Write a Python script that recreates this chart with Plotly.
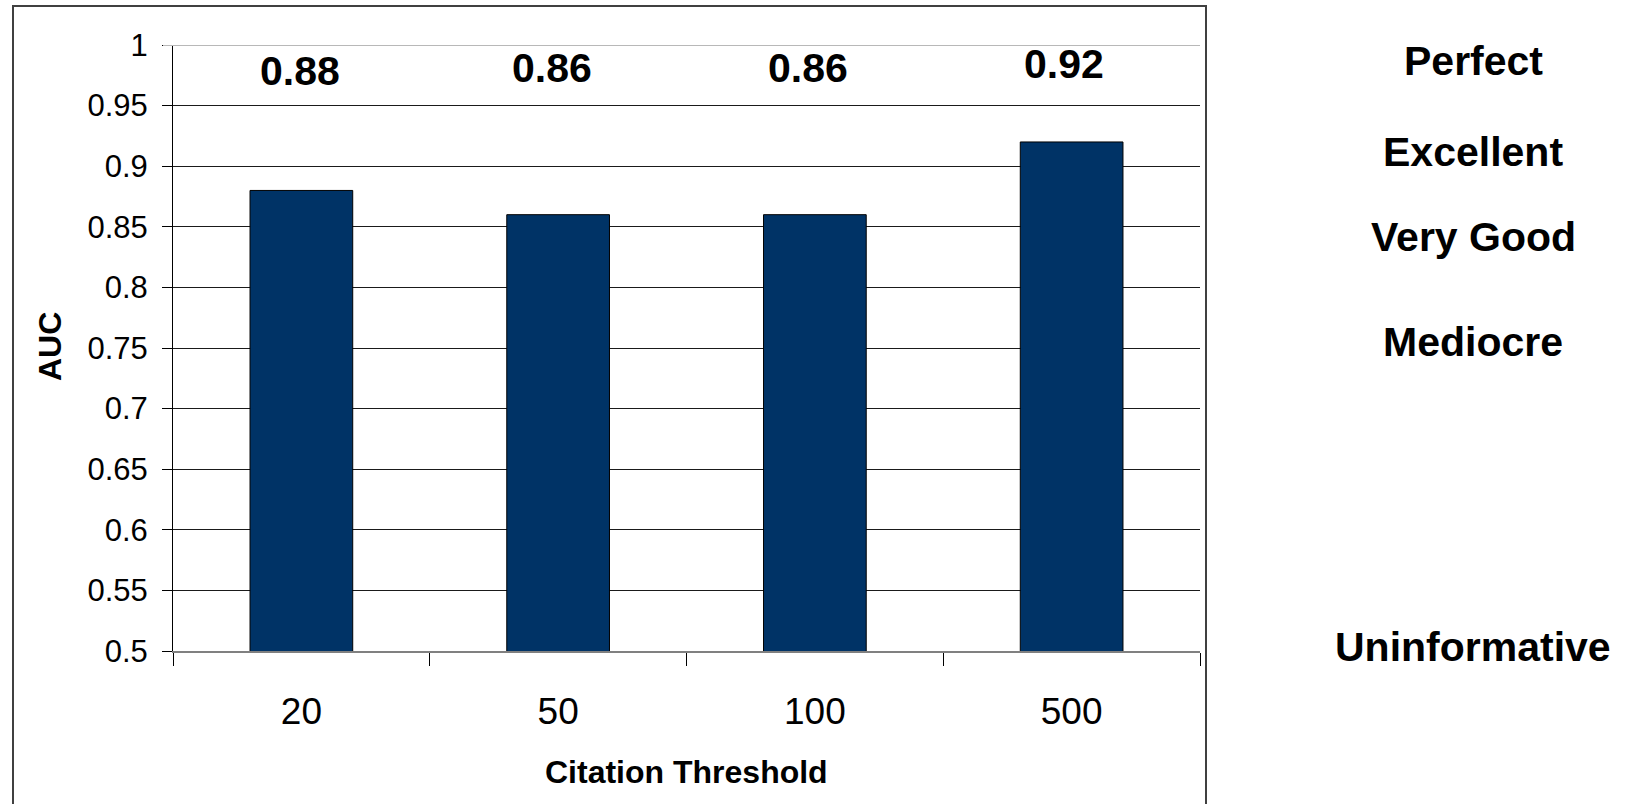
import plotly.graph_objects as go

# ---- data ----
categories = ["20", "50", "100", "500"]
auc_values = [0.88, 0.86, 0.86, 0.92]
value_labels = ["0.88", "0.86", "0.86", "0.92"]
y_tick_values = [0.5, 0.55, 0.6, 0.65, 0.7, 0.75, 0.8, 0.85, 0.9, 0.95, 1.0]
y_tick_labels = ["0.5", "0.55", "0.6", "0.65", "0.7", "0.75", "0.8", "0.85", "0.9", "0.95", "1"]
quality_labels = ["Perfect", "Excellent", "Very Good", "Mediocre", "Uninformative"]

# ---- layout geometry (pixels) ----
W, H = 1632, 804
PL, PR, PT, PB = 173, 1200, 45, 651
pw, ph = PR - PL, PB - PT


def xp(px):
    return (px - PL) / pw


def yp(py):
    return (PB - py) / ph


FONT = "Liberation Sans, Arial, sans-serif"

fig = go.Figure()
fig.add_trace(go.Bar(
    x=categories, y=auc_values, width=0.4,
    marker=dict(color="#003366", line=dict(color="#000000", width=1)),
    hoverinfo="x+y", showlegend=False,
))

annotations = []
label_py = [71, 68, 68, 64]
label_dx = [-1, -6, -7, -8]
for i, (txt, py, dx) in enumerate(zip(value_labels, label_py, label_dx)):
    annotations.append(dict(
        x=i, xref="x", y=yp(py), yref="paper", text="<b>%s</b>" % txt,
        showarrow=False, xanchor="center", yanchor="middle", xshift=dx,
        font=dict(family=FONT, size=41, color="#000000"),
    ))

quality_py = [61, 152, 237, 342, 647]
for txt, py in zip(quality_labels, quality_py):
    annotations.append(dict(
        x=xp(1473), xref="paper", y=yp(py), yref="paper", text="<b>%s</b>" % txt,
        showarrow=False, xanchor="center", yanchor="middle",
        font=dict(family=FONT, size=41, color="#000000"),
    ))

annotations.append(dict(
    x=xp(686), xref="paper", y=yp(772), yref="paper", text="<b>Citation Threshold</b>",
    showarrow=False, xanchor="center", yanchor="middle",
    font=dict(family=FONT, size=32, color="#000000"),
))
annotations.append(dict(
    x=xp(50), xref="paper", y=yp(347), yref="paper", text="<b>AUC</b>",
    showarrow=False, xanchor="center", yanchor="middle", textangle=-90,
    font=dict(family=FONT, size=32, color="#000000"),
))

shapes = [
    # outer chart frame
    dict(type="rect", xref="paper", yref="paper",
         x0=xp(13), x1=xp(1206), y0=yp(860), y1=yp(6),
         line=dict(color="#404040", width=2), fillcolor="rgba(0,0,0,0)", layer="below"),
    # top border of plot area
    dict(type="line", xref="paper", yref="y",
         x0=xp(163), x1=1.0, y0=1.0, y1=1.0,
         line=dict(color="#b8b8b8", width=2), layer="above"),
]

fig.update_layout(
    width=W, height=H,
    margin=dict(l=PL, r=W - PR, t=PT, b=H - PB, autoexpand=False),
    paper_bgcolor="#ffffff", plot_bgcolor="#ffffff",
    font=dict(family=FONT, color="#000000"),
    bargap=0.6,
    annotations=annotations,
    shapes=shapes,
    showlegend=False,
)

fig.update_xaxes(
    type="category", categoryorder="array", categoryarray=categories,
    tickson="boundaries", ticks="outside", ticklen=13, tickwidth=1, tickcolor="#000000",
    showline=True, linecolor="#808080", linewidth=1.5,
    showgrid=False, zeroline=False,
    tickfont=dict(family=FONT, size=37, color="#000000"),
    ticklabelstandoff=27,
    range=[-0.5, 3.5],
)

fig.update_yaxes(
    range=[0.5, 1.0], tickmode="array", tickvals=y_tick_values, ticktext=y_tick_labels,
    ticks="outside", ticklen=10, tickwidth=1, tickcolor="#000000",
    showline=True, linecolor="#000000", linewidth=1,
    showgrid=True, gridcolor="#1a1a1a", gridwidth=1,
    zeroline=False,
    tickfont=dict(family=FONT, size=31, color="#000000"),
    ticklabelstandoff=8,
)

fig.write_html("out.html")
